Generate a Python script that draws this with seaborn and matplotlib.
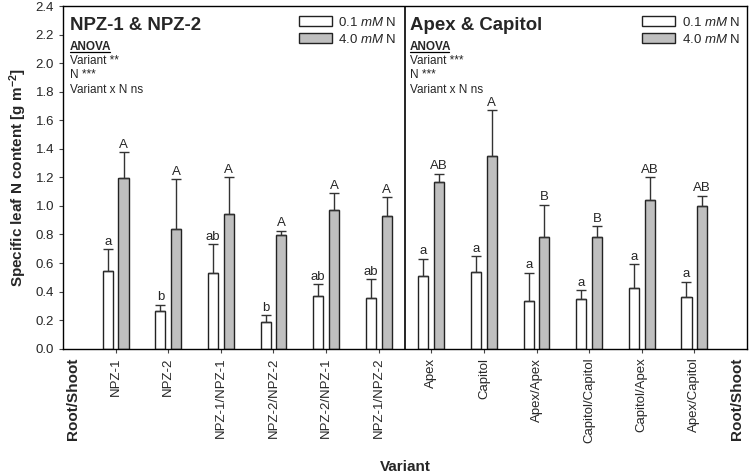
import numpy as np
import pandas as pd
import matplotlib.pyplot as plt
import seaborn as sns

# Variants: NPZ panel (positions 1-6) and Apex/Capitol panel (positions 7-12)
variants = ['NPZ-1', 'NPZ-2', 'NPZ-1/NPZ-1', 'NPZ-2/NPZ-2', 'NPZ-2/NPZ-1', 'NPZ-1/NPZ-2',
            'Apex', 'Capitol', 'Apex/Apex', 'Capitol/Capitol', 'Capitol/Apex', 'Apex/Capitol']
positions = list(range(1, 13))

low_mean = [0.546, 0.263, 0.530, 0.184, 0.366, 0.352,
            0.509, 0.535, 0.331, 0.345, 0.427, 0.359]
low_err = [0.152, 0.044, 0.201, 0.049, 0.084, 0.136,
           0.121, 0.112, 0.201, 0.066, 0.164, 0.110]
high_mean = [1.196, 0.839, 0.942, 0.794, 0.970, 0.928,
             1.171, 1.353, 0.782, 0.780, 1.044, 1.000]
high_err = [0.181, 0.348, 0.261, 0.033, 0.119, 0.135,
            0.056, 0.318, 0.227, 0.077, 0.157, 0.072]

low_letters = ['a', 'b', 'ab', 'b', 'ab', 'ab', 'a', 'a', 'a', 'a', 'a', 'a']
high_letters = ['A', 'A', 'A', 'A', 'A', 'A', 'AB', 'A', 'B', 'B', 'AB', 'AB']

treatments = ['0.1 mM N', '4.0 mM N']
colors = ['white', '#bfbfbf']

sns.set_style('ticks')
plt.rcParams['font.family'] = ['Liberation Sans', 'DejaVu Sans']
plt.rcParams['mathtext.fontset'] = 'custom'
plt.rcParams['mathtext.rm'] = 'Liberation Sans'
plt.rcParams['mathtext.it'] = 'Liberation Sans:italic'
plt.rcParams['mathtext.bf'] = 'Liberation Sans:bold'

df = pd.DataFrame({
    'pos': positions * 2,
    'value': low_mean + high_mean,
    'err': low_err + high_err,
    'letter': low_letters + high_letters,
    'treatment': [treatments[0]] * 12 + [treatments[1]] * 12,
})

fig = plt.figure(figsize=(7.5, 4.75), dpi=100)
ax = fig.add_axes([0.084, 0.266, 0.912, 0.721])

sns.barplot(data=df, x='pos', y='value', hue='treatment', hue_order=treatments,
            palette=colors, native_scale=True, width=0.6, gap=0.36,
            errorbar=None, edgecolor='#222222', linewidth=1.0, legend=False, ax=ax)

# error bars (upper only) and significance letters, placed on the drawn bars
for container, tr in zip(ax.containers, treatments):
    sub = df[df['treatment'] == tr].sort_values('pos')
    for bar, (_, row) in zip(container, sub.iterrows()):
        xc = bar.get_x() + bar.get_width() / 2
        top = bar.get_height()
        ax.errorbar(xc, top, yerr=[[0], [row['err']]], fmt='none', ecolor='#333333',
                    elinewidth=1.0, capsize=3.3, capthick=1.0)
        ax.text(xc, top + row['err'] + 0.01, row['letter'], ha='center', va='bottom',
                fontsize=9.5)

ax.set_xlim(0, 13)
ax.set_ylim(0, 2.4)
ax.set_yticks(np.arange(0, 2.41, 0.2))
ax.set_yticklabels([f'{v:.1f}' for v in np.arange(0, 2.41, 0.2)], fontsize=9.5)
ax.set_xticks(positions)
ax.set_xticklabels(variants, rotation=90, fontsize=9.5)
ax.tick_params(axis='both', length=3, width=0.8, color='#444444')
for s in ax.spines.values():
    s.set_visible(True)
    s.set_color('black')
    s.set_linewidth(1.0)

ax.axvline(6.5, color='black', linewidth=1.2)

ax.set_ylabel('Specific leaf N content [g m$^{\\mathbf{-2}}$]', fontsize=11,
              fontweight='bold', labelpad=5)
ax.set_xlabel('')
fig.text(0.54, 0.017, 'Variant', ha='center', va='center', fontsize=11, fontweight='bold')

for xa in [0.014, 0.986]:
    ax.text(xa, -0.025, 'Root/Shoot', rotation=90, ha='center', va='top', fontsize=11,
            fontweight='bold', transform=ax.transAxes)

# panel headings and ANOVA results
for x0, title, var_sig in [(0.010, 'NPZ-1 & NPZ-2', 'Variant **'),
                           (0.507, 'Apex & Capitol', 'Variant ***')]:
    ax.text(x0, 0.968, title, fontsize=13.4, fontweight='bold', ha='left', va='top',
            transform=ax.transAxes)
    ax.text(x0, 0.897, 'ANOVA', fontsize=8.5, fontweight='bold', ha='left', va='top',
            transform=ax.transAxes)
    ax.plot([x0, x0 + 0.058], [0.866, 0.866], color='black', linewidth=0.9,
            transform=ax.transAxes, clip_on=False)
    ax.text(x0, 0.857, var_sig + '\nN ***\nVariant x N ns', fontsize=8.5, ha='left',
            va='top', linespacing=1.25, transform=ax.transAxes)

# two legends, one for each panel
handles = [plt.Rectangle((0, 0), 1, 1, facecolor=c, edgecolor='#222222', linewidth=1.0)
           for c in colors]
labels = ['0.1 $\\mathit{mM}$ N', '4.0 $\\mathit{mM}$ N']
leg_kw = dict(frameon=False, fontsize=9.5, handlelength=2.5, handleheight=0.75,
              labelspacing=0.3, handletextpad=0.5, borderaxespad=0.2)
leg1 = ax.legend(handles, labels, loc='upper left', bbox_to_anchor=(0.333, 0.995), **leg_kw)
ax.add_artist(leg1)
ax.legend(handles, labels, loc='upper left', bbox_to_anchor=(0.835, 0.995), **leg_kw)

fig.savefig('out.png', dpi=100)
